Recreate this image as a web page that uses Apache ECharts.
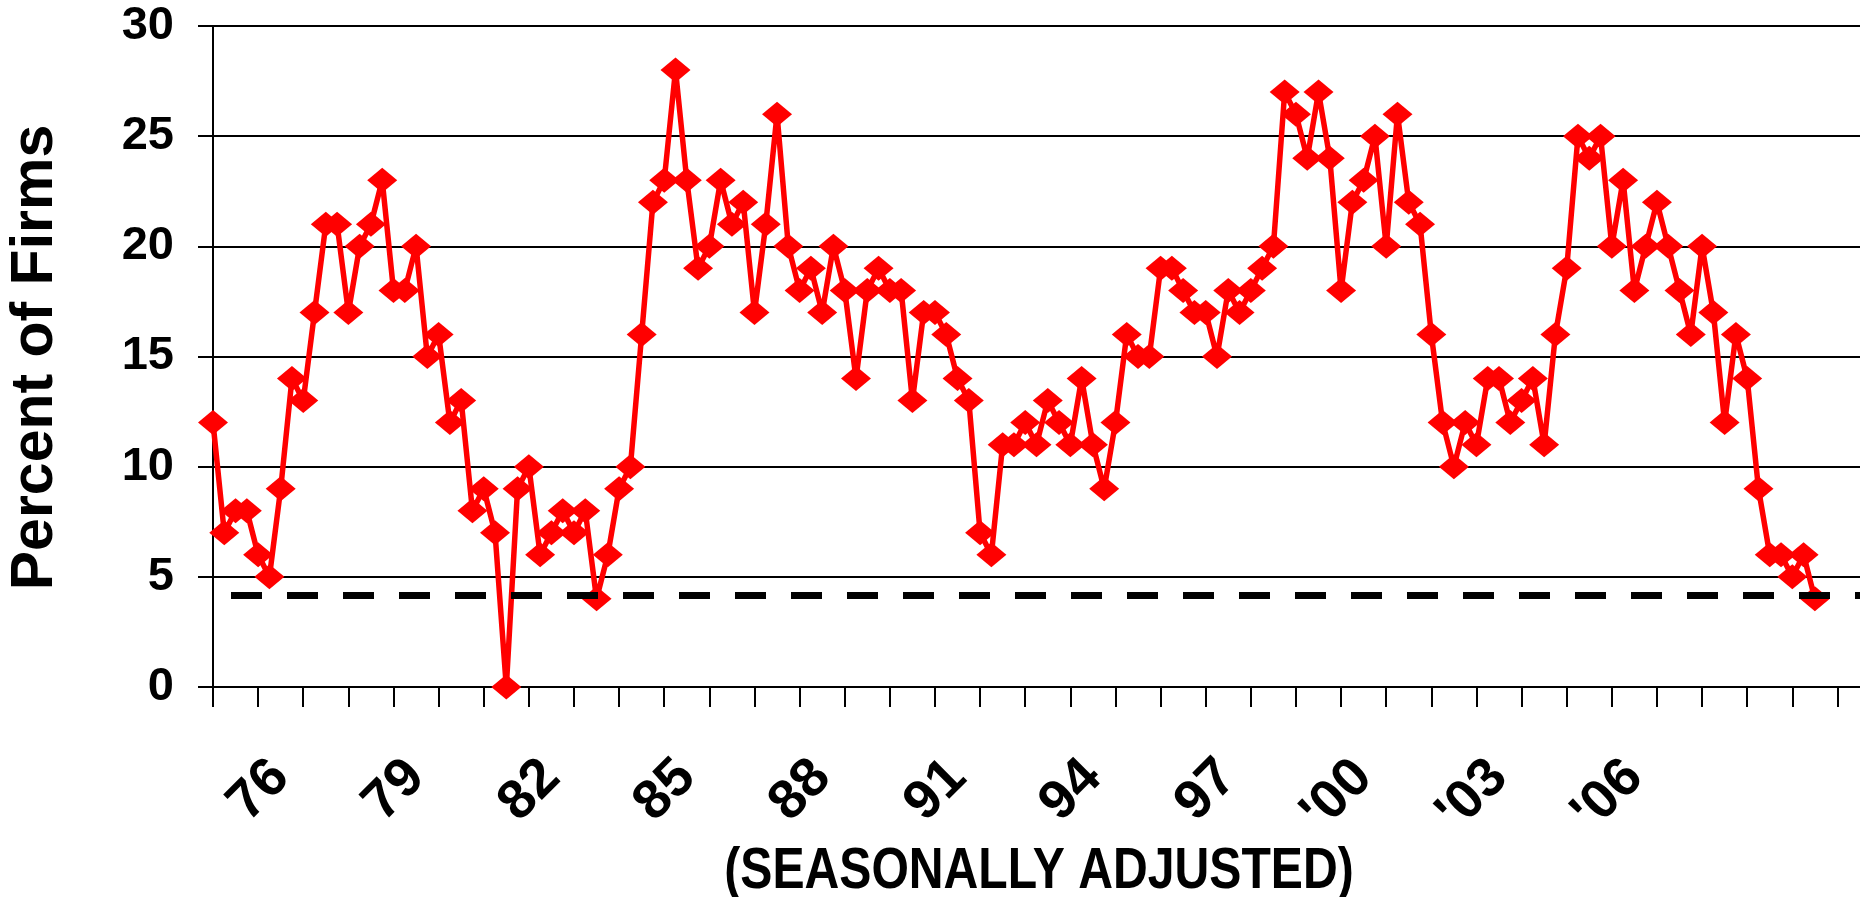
<!DOCTYPE html>
<html>
<head>
<meta charset="utf-8">
<script src="https://cdn.jsdelivr.net/npm/echarts@6/dist/echarts.min.js"></script>
<style>
  html, body { margin: 0; padding: 0; background: #fff; }
  #chart { width: 1860px; height: 897px; }
</style>
</head>
<body>
<div id="chart"></div>
<script>
// Quarterly series, first quarter = 1974 Q3
const startYear = 1974;
const startQuarter = 3;
const extraQuarters = 4; // empty quarters after the last value

const percentOfFirms = [
  12, 7, 8, 8, 6, 5, 9, 14, 13, 17, 21, 21, 17, 20, 21, 23, 18, 18, 20, 15,
  16, 12, 13, 8, 9, 7, 0, 9, 10, 6, 7, 8, 7, 8, 4, 6, 9, 10, 16, 22,
  23, 28, 23, 19, 20, 23, 21, 22, 17, 21, 26, 20, 18, 19, 17, 20, 18, 14, 18, 19,
  18, 18, 13, 17, 17, 16, 14, 13, 7, 6, 11, 11, 12, 11, 13, 12, 11, 14, 11, 9,
  12, 16, 15, 15, 19, 19, 18, 17, 17, 15, 18, 17, 18, 19, 20, 27, 26, 24, 27, 24,
  18, 22, 23, 25, 20, 26, 22, 21, 16, 12, 10, 12, 11, 14, 14, 12, 13, 14, 11, 16,
  19, 25, 24, 25, 20, 23, 18, 20, 22, 20, 18, 16, 20, 17, 12, 16, 14, 9, 6, 6,
  5, 6, 4
];

const referenceLevel = 4.15;   // dashed line

const tickYears  = [1976, 1979, 1982, 1985, 1988, 1991, 1994, 1997, 2000, 2003, 2006];
const tickLabels = ['76', '79', '82', '85', '88', '91', '94', '97', "'00", "'03", "'06"];

const yTicks = { min: 0, max: 30, interval: 5 };

// category names (one per quarter)
const categories = [];
for (let i = 0; i < percentOfFirms.length + extraQuarters; i++) {
  const k = (startQuarter - 1) + i;
  categories.push((startYear + Math.floor(k / 4)) + 'Q' + (k % 4 + 1));
}
function labelFor(cat) {
  const y = parseInt(cat.slice(0, 4), 10);
  const q = cat.slice(5);
  if (q !== '1') return null;
  const idx = tickYears.indexOf(y);
  return idx >= 0 ? tickLabels[idx] : null;
}

const FONT = '"Liberation Sans", Arial, Helvetica, sans-serif';

const chart = echarts.init(document.getElementById('chart'), null, { renderer: 'canvas' });
chart.setOption({
  animation: false,
  backgroundColor: '#ffffff',
  grid: { left: 213, top: 26, width: 1652.7, height: 661, containLabel: false },
  xAxis: {
    type: 'category',
    data: categories,
    boundaryGap: false,
    axisLine: { show: true, lineStyle: { color: '#000', width: 2 } },
    axisTick: { show: true, interval: 3, length: 20, lineStyle: { color: '#000', width: 2 } },
    axisLabel: {
      interval: function (index, value) { return labelFor(value) !== null; },
      formatter: function (value) { return labelFor(value) || ''; },
      rotate: 45,
      margin: 82,
      color: '#000',
      fontFamily: FONT,
      fontWeight: 'bold',
      fontSize: 55
    },
    splitLine: { show: false }
  },
  yAxis: {
    type: 'value',
    min: yTicks.min,
    max: yTicks.max,
    interval: yTicks.interval,
    axisLine: { show: true, lineStyle: { color: '#000', width: 2 } },
    axisTick: { show: true, length: 15, lineStyle: { color: '#000', width: 2 } },
    axisLabel: {
      margin: 39,
      color: '#000',
      fontFamily: FONT,
      fontWeight: 'bold',
      fontSize: 47
    },
    splitLine: { show: true, lineStyle: { color: '#000', width: 2 } }
  },
  series: [{
    type: 'line',
    data: percentOfFirms,
    z: 2,
    symbol: 'diamond',
    symbolSize: [30, 25],
    showAllSymbol: true,
    lineStyle: { color: '#ff0000', width: 5.5 },
    itemStyle: { color: '#ff0000', borderWidth: 0 },
    emphasis: { disabled: true },
    markLine: {
      silent: true,
      symbol: ['none', 'none'],
      z: 5,
      label: { show: false },
      lineStyle: { color: '#000', width: 7, type: [31, 25], dashOffset: 38 },
      data: [{ yAxis: referenceLevel }]
    }
  }],
  graphic: [
    {
      type: 'text',
      x: 36, y: 357.5,
      rotation: Math.PI / 2,
      style: {
        text: 'Percent of Firms',
        font: 'bold 59px ' + FONT,
        fill: '#000',
        textAlign: 'center', textVerticalAlign: 'middle',
        align: 'center', verticalAlign: 'middle'
      }
    },
    {
      type: 'text',
      x: 1039, y: 872,
      scaleX: 0.83,
      style: {
        text: '(SEASONALLY ADJUSTED)',
        font: 'bold 58px ' + FONT,
        fill: '#000',
        textAlign: 'center', textVerticalAlign: 'middle',
        align: 'center', verticalAlign: 'middle'
      }
    }
  ]
});
</script>
</body>
</html>
